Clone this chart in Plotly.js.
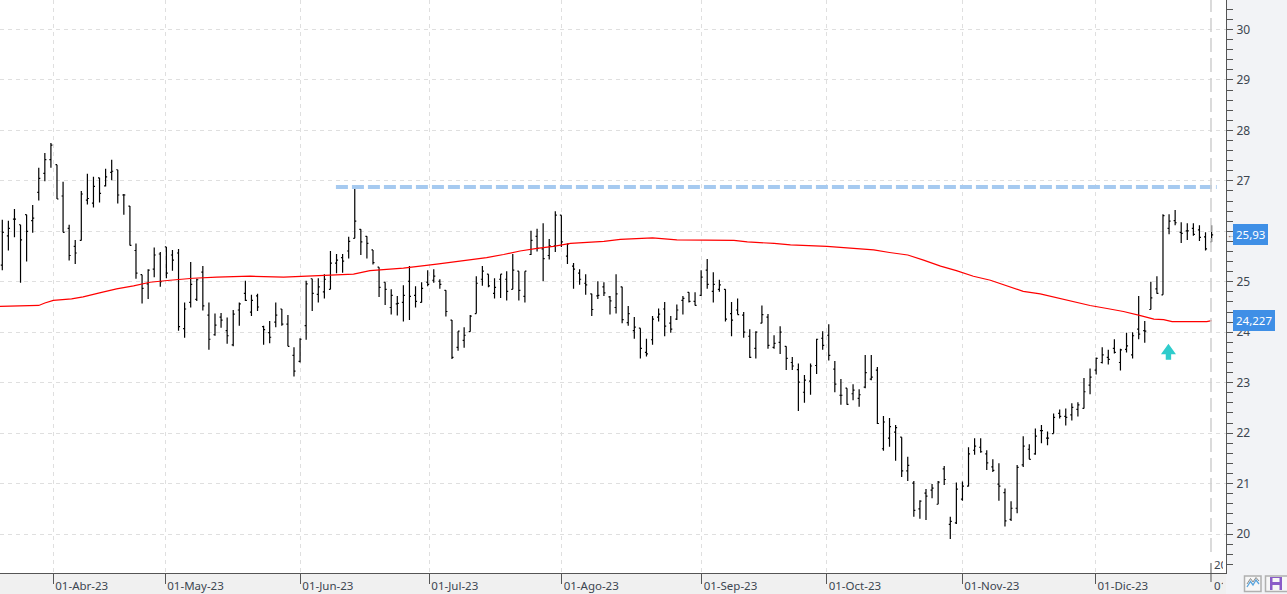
<!DOCTYPE html>
<html><head><meta charset="utf-8">
<script src="https://cdn.plot.ly/plotly-3.0.1.min.js"></script>
<style>html,body{margin:0;padding:0;background:#f0f0f0;overflow:hidden}#c{width:1287px;height:594px}</style>
</head><body><div id="c"></div>
<script>
const openP=[25.33,25.91,26.24,26.13,26.33,26.21,26.77,27.15,27.42,27.32,26.70,26.06,25.70,25.82,26.62,26.56,27.06,26.90,27.17,27.22,26.72,26.50,25.62,25.14,24.96,25.25,25.55,25.69,25.53,25.57,24.07,24.59,24.65,25.19,24.34,23.95,24.30,24.03,23.75,24.44,24.77,24.40,24.72,24.11,23.99,24.20,24.46,24.16,23.54,23.42,24.13,25.06,24.75,
24.80,24.85,25.37,25.48,25.61,25.86,26.04,25.90,25.63,25.29,24.99,24.49,24.56,24.59,25.01,24.73,24.59,24.99,25.03,25.01,24.83,24.24,23.70,23.84,24.01,24.37,25.05,25.15,24.77,25.05,25.05,24.85,25.21,24.71,25.54,25.90,25.65,25.52,25.71,26.32,25.51,25.31,25.17,24.97,24.76,24.72,24.90,24.70,24.49,24.90,24.19,24.03,
24.08,23.60,23.85,24.30,24.46,24.18,24.26,24.63,24.79,24.61,24.73,25.23,24.81,24.85,24.85,24.37,24.44,24.34,23.92,23.68,24.18,24.30,23.70,23.80,23.72,23.40,23.26,22.81,23.03,23.34,23.88,23.94,23.27,22.75,22.89,22.78,22.69,22.91,23.07,23.25,21.69,21.90,22.02,21.92,21.25,21.01,20.50,20.81,20.87,20.59,21.29,20.19,20.22,
20.69,20.95,21.66,21.72,21.59,21.33,20.99,20.82,20.29,20.51,21.37,21.68,21.59,22.05,21.90,21.99,22.39,22.33,22.36,22.47,22.49,22.95,23.25,23.40,23.50,23.68,23.40,23.66,23.55,24.06,24.03,24.45,24.86,24.74,26.06,26.21,25.98,26.01,26.06,26.03,25.89,25.79];
const highP=[26.23,26.21,26.44,26.13,26.33,26.52,27.26,27.55,27.75,27.32,26.98,26.13,25.83,26.80,27.14,27.08,27.06,27.24,27.42,27.22,26.74,26.50,25.76,25.14,25.25,25.68,25.59,25.69,25.63,25.65,24.59,25.39,25.06,25.31,24.59,24.37,24.38,24.29,24.44,24.59,25.02,24.74,24.76,24.13,24.22,24.59,24.46,24.34,23.70,23.88,25.02,25.06,25.07,
25.15,25.61,25.55,25.55,25.89,26.88,26.04,25.90,25.63,25.29,24.99,24.85,24.72,24.93,25.31,24.91,24.99,25.23,25.25,25.05,24.83,24.24,24.02,24.10,24.34,25.11,25.31,25.15,25.07,25.15,25.21,25.55,25.21,25.21,26.01,26.05,26.16,25.85,26.40,26.32,25.76,25.37,25.25,25.15,24.76,25.01,24.99,24.72,25.15,24.90,24.52,24.30,
24.08,23.87,24.32,24.47,24.60,24.32,24.55,24.72,24.79,24.79,25.23,25.45,25.19,25.04,24.85,24.60,24.67,24.40,24.06,24.02,24.53,24.36,23.94,24.12,23.72,23.51,23.38,23.15,23.38,23.87,24.02,24.16,23.43,23.07,22.89,22.97,22.87,23.55,23.55,23.31,22.34,22.30,22.16,21.92,21.53,21.05,20.67,20.89,20.99,21.05,21.35,20.34,21.02,
21.04,21.72,21.90,21.90,21.66,21.48,21.40,20.90,20.65,21.37,21.94,21.78,22.09,22.16,22.03,22.39,22.47,22.49,22.59,22.61,23.09,23.28,23.50,23.70,23.65,23.86,23.67,23.99,24.00,24.72,24.22,25.00,25.11,26.34,26.34,26.42,26.18,26.16,26.16,26.12,25.98,26.12];
const lowP=[25.23,25.62,25.88,24.98,25.40,25.97,26.61,26.99,27.26,26.64,25.98,25.42,25.35,25.82,26.53,26.47,26.57,26.89,27.01,26.55,26.33,25.72,25.06,24.57,24.66,25.09,24.90,25.07,25.22,24.03,23.89,24.49,24.62,24.43,23.65,23.93,24.09,23.77,23.72,24.13,24.62,24.32,24.42,23.75,23.78,24.10,24.13,23.72,23.12,23.40,23.85,24.42,24.59,
24.67,24.85,25.17,25.18,25.46,25.86,25.53,25.46,25.34,24.70,24.54,24.35,24.33,24.21,24.24,24.49,24.59,24.91,24.98,24.86,24.31,23.47,23.63,23.69,24.01,24.37,24.92,24.89,24.67,24.68,24.63,24.85,24.63,24.59,25.53,25.60,25.01,25.44,25.59,25.69,25.35,24.86,24.94,24.74,24.32,24.66,24.72,24.35,24.37,24.18,24.13,23.87,
23.48,23.52,23.75,24.21,23.92,23.99,24.24,24.35,24.59,24.53,24.72,24.86,24.59,24.80,24.21,23.92,24.35,23.89,23.49,23.48,24.18,23.67,23.67,23.57,23.25,23.25,22.44,22.60,22.76,23.17,23.65,23.44,22.81,22.56,22.56,22.65,22.52,22.89,23.05,22.18,21.65,21.73,21.45,21.13,21.05,20.34,20.30,20.28,20.71,20.59,20.97,19.90,20.20,
20.66,20.94,21.57,21.61,21.27,21.23,20.66,20.15,20.26,20.41,21.33,21.48,21.57,21.80,21.76,21.99,22.29,22.15,22.25,22.33,22.49,22.77,23.16,23.38,23.36,23.58,23.24,23.60,23.48,23.86,23.79,24.45,24.76,24.74,25.94,26.12,25.77,25.83,25.91,25.81,25.62,25.79];
const closeP=[25.98,26.06,26.24,25.83,26.00,26.26,27.05,27.42,27.71,26.64,25.98,25.52,25.57,26.74,26.65,26.89,26.75,27.08,27.19,26.72,26.72,25.72,25.17,24.87,25.23,25.53,25.00,25.17,25.43,24.11,24.46,24.95,25.04,24.52,23.86,24.14,24.24,23.93,24.36,24.56,24.63,24.63,24.50,24.05,23.90,24.34,24.16,23.72,23.23,23.86,24.96,24.77,24.90,
25.05,25.37,25.43,25.41,25.80,26.20,25.79,25.76,25.38,24.89,24.85,24.73,24.57,24.73,24.71,24.61,24.87,24.95,25.11,24.95,24.41,23.50,24.02,23.94,24.32,24.97,25.21,24.92,24.89,25.15,24.81,25.23,24.83,25.21,25.82,25.66,25.46,25.71,26.32,25.79,25.75,25.25,25.05,24.94,24.45,24.73,24.78,24.62,24.76,24.25,24.37,24.10,
23.68,23.57,24.26,24.36,24.12,24.06,24.44,24.67,24.61,24.53,25.09,24.95,24.95,24.94,24.26,24.24,24.35,24.00,23.50,24.00,24.35,23.74,23.78,24.00,23.48,23.33,23.01,23.05,23.33,23.86,23.74,23.54,22.97,22.75,22.57,22.85,22.76,23.20,23.11,22.19,22.22,22.13,22.11,21.25,21.36,20.47,20.65,20.75,20.91,21.03,21.08,20.25,20.89,
20.95,21.59,21.74,21.63,21.41,21.26,20.95,20.26,20.51,21.32,21.74,21.48,21.94,22.05,21.90,22.31,22.33,22.31,22.51,22.56,22.82,23.11,23.48,23.55,23.46,23.60,23.65,23.73,23.93,23.96,24.02,24.68,24.77,26.31,26.20,26.17,25.96,26.01,25.94,25.88,25.65,25.93];
const barIndex=openP.map((_,i)=>i);

const maIndex=[-1,3,6,7,8.4,11.4,13.3,16,18.8,21.6,24.3,27.6,31.4,35.3,40.8,46.3,52.3,57.8,60.5,66,71.5,74.2,77,79.7,82.5,85.2,88,90.7,93.5,96.2,99,101.7,105,107,109,111,120.4,122.6,127,129.7,135.7,140,143.4,146,149,151.6,154.4,157,159.8,162.6,165.3,168,170.8,173.6,176.3,179,181.8,184.5,187.3,189.5,191.1,192.5,198.2,199];
const maValue=[24.51,24.52,24.53,24.58,24.63,24.66,24.70,24.78,24.86,24.92,24.99,25.03,25.07,25.09,25.11,25.09,25.12,25.15,25.22,25.27,25.35,25.39,25.44,25.48,25.54,25.61,25.66,25.70,25.76,25.78,25.80,25.84,25.86,25.87,25.85,25.83,25.82,25.79,25.76,25.73,25.70,25.66,25.63,25.58,25.53,25.43,25.31,25.22,25.11,25.03,24.92,24.81,24.76,24.68,24.60,24.53,24.47,24.41,24.33,24.26,24.25,24.21,24.21,24.23];

const tickIndex=[8.39,26.82,49.04,70.27,92.05,115.09,135.66,157.97,179.9];
const tickLabels=['01-Abr-23','01-May-23','01-Jun-23','01-Jul-23','01-Ago-23','01-Sep-23','01-Oct-23','01-Nov-23','01-Dic-23'];
const priceTicks=[20,21,22,23,24,25,26,27,28,29,30];
const priceLabels=['20','21','22','23','24','25','','27','28','29','30'];
const resistance=26.88, resistanceFrom=54.9, resistanceTo=199.85;
const lastClose=25.93, lastMA=24.227;
const arrowIndex=191.9, arrowValue=23.77;
const endIndex=198.9;

const W=1226,H=573;
const px=v=>v/W, py=v=>(H-v)/H;
const font='"Noto Sans", "Open Sans", sans-serif';
const txt='#3c4650';

const traces=[
 {type:'scatter',mode:'lines',x:[resistanceFrom,resistanceTo],y:[resistance,resistance],line:{color:'#a6caf0',width:4,dash:'12px,4px'},hoverinfo:'skip'},
 {type:'scatter',mode:'lines',x:maIndex,y:maValue,line:{color:'#ff0000',width:1.2},hoverinfo:'skip'},
 {type:'ohlc',x:barIndex,open:openP,high:highP,low:lowP,close:closeP,tickwidth:0.25,
  increasing:{line:{color:'#000',width:1.2}},decreasing:{line:{color:'#000',width:1.2}},hoverinfo:'skip'}
];

const badge=(y,text)=>({xref:'paper',yref:'y',x:1,y:y,xanchor:'left',yanchor:'middle',xshift:7,text:text,showarrow:false,
  bgcolor:'#3f8fe6',font:{family:font,size:11.5,color:'#fff'},borderpad:3,borderwidth:0});
const arrowMark=y=>({xref:'paper',yref:'y',x:1,y:y,xanchor:'left',yanchor:'middle',xshift:0,text:'←',showarrow:false,borderpad:0,font:{family:font,size:8,color:'#555'}});

const layout={
 width:1287,height:594,margin:{l:0,r:61,t:0,b:21,pad:0},
 paper_bgcolor:'#f0f0f0',plot_bgcolor:'#ffffff',showlegend:false,
 font:{family:font,size:11.5,color:txt},
 xaxis:{type:'linear',range:[-0.379,201.37],rangeslider:{visible:false},tickmode:'array',tickvals:tickIndex,ticktext:tickLabels,
  ticks:'outside',ticklen:10,tickcolor:'#555',tickwidth:1,showline:true,linecolor:'#555',linewidth:1,
  showgrid:true,gridcolor:'#dfdfdf',griddash:'4px,4px',gridwidth:1,zeroline:false,ticklabelposition:'outside right',ticklabelstandoff:2,ticklabelshift:1,
  tickangle:0,tickfont:{family:font,size:11.5,color:txt},fixedrange:true},
 yaxis:{side:'right',range:[19.227,30.585],tickmode:'array',tickvals:priceTicks,ticktext:priceLabels,ticks:'outside',ticklen:6,tickcolor:'#555',tickwidth:1,
  minor:{tickmode:'linear',dtick:0.2,tick0:20,ticks:'outside',ticklen:6,tickcolor:'#555',tickwidth:1,showgrid:false},
  showline:true,linecolor:'#555',linewidth:1,showgrid:true,gridcolor:'#dfdfdf',griddash:'4px,4px',gridwidth:1,zeroline:false,
  ticklabelstandoff:1,tickfont:{family:font,size:12,color:txt},fixedrange:true},
 shapes:[
  {type:'rect',xref:'paper',yref:'paper',x0:1,x1:px(1287),y0:py(0),y1:py(594),fillcolor:'#f2f3f6',line:{width:0},layer:'below'},
  {type:'line',xref:'x',yref:'paper',x0:endIndex,x1:endIndex,y0:py(552),y1:py(0),line:{color:'#cfcfcf',width:1.5,dash:'14px,6px'}},
  {type:'line',xref:'x',yref:'paper',x0:endIndex,x1:endIndex,y0:py(582),y1:py(563),line:{color:'#555',width:1}},
  {type:'path',xref:'x',yref:'y',xsizemode:'pixel',ysizemode:'pixel',xanchor:arrowIndex,yanchor:arrowValue,
   path:'M0,0 L7.5,-10.5 L2.7,-10.5 L2.7,-16 L-2.7,-16 L-2.7,-10.5 L-7.5,-10.5 Z',fillcolor:'#2fcccc',line:{width:0}},
  {type:'rect',xref:'paper',yref:'paper',x0:px(1244.5),x1:px(1261),y0:py(591.5),y1:py(576),fillcolor:'#f7f7f7',line:{color:'#b0b0b0',width:1.5}},
  {type:'path',xref:'paper',yref:'paper',path:`M${px(1247)},${py(587)} L${px(1250.5)},${py(581.5)} L${px(1253)},${py(585)} L${px(1256)},${py(580)} L${px(1259)},${py(584)}`,line:{color:'#5aa5de',width:1.3}},
  {type:'path',xref:'paper',yref:'paper',path:`M${px(1247)},${py(584)} L${px(1250.5)},${py(578.5)} L${px(1253)},${py(582)} L${px(1256)},${py(577.5)} L${px(1259)},${py(581)}`,line:{color:'#8a8a8a',width:1}},
  {type:'rect',xref:'paper',yref:'paper',x0:px(1265.5),x1:px(1290),y0:py(591.5),y1:py(576),fillcolor:'#f7f7f7',line:{color:'#b0b0b0',width:1.5}},
  {type:'rect',xref:'paper',yref:'paper',x0:px(1270),x1:px(1282),y0:py(590),y1:py(577),fillcolor:'#8a5cc8',line:{width:0}},
  {type:'rect',xref:'paper',yref:'paper',x0:px(1272.5),x1:px(1279.5),y0:py(582),y1:py(578),fillcolor:'#f7f7f7',line:{width:0}},
  {type:'rect',xref:'paper',yref:'paper',x0:px(1272.5),x1:px(1279.5),y0:py(590),y1:py(585),fillcolor:'#f7f7f7',line:{width:0}}
 ],
 annotations:[
  arrowMark(lastClose),badge(lastClose,'25,93'),
  arrowMark(lastMA),badge(lastMA,'24,227'),
  {xref:'x',yref:'paper',x:endIndex,y:py(585),xanchor:'left',yanchor:'middle',xshift:1,text:'01-Ene-24',width:9,align:'left',showarrow:false,font:{family:font,size:11.5,color:txt}},
  {xref:'x',yref:'paper',x:endIndex,y:py(564),xanchor:'left',yanchor:'middle',xshift:1,text:'2024',width:9,align:'left',showarrow:false,font:{family:font,size:11.5,color:txt}}
 ]
};
Plotly.newPlot('c',traces,layout,{displayModeBar:false,staticPlot:true});
</script></body></html>
